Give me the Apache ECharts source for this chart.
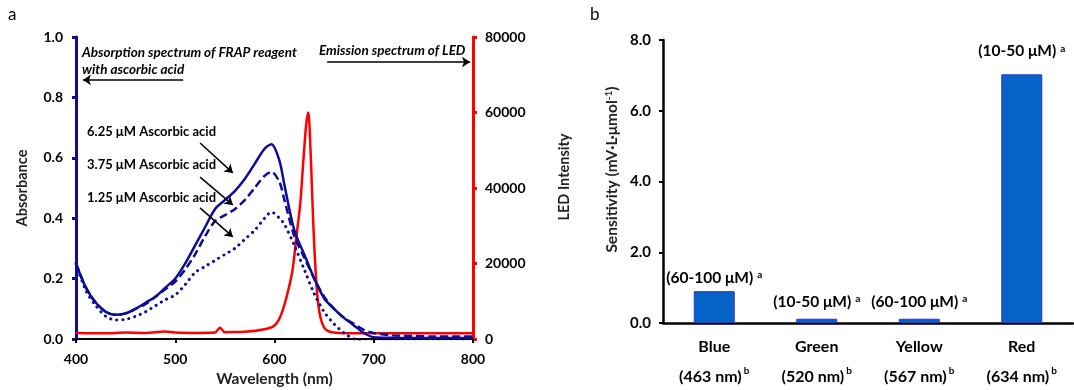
<!DOCTYPE html>
<html>
<head>
<meta charset="utf-8">
<script src="https://cdn.jsdelivr.net/npm/echarts@6/dist/echarts.min.js"></script>
<style>
  html, body { margin: 0; padding: 0; background: #fff; }
  #main { width: 1074px; height: 390px; }
</style>
</head>
<body>
<div id="main"></div>
<script>
// panel a: absorption spectra (wavelength grid shared by the three curves)
const absNm = [400, 410, 420, 430, 440, 450, 460, 470, 480, 490, 500, 510, 520, 530, 540, 550, 560, 570, 580, 590, 597, 605, 610, 620, 630, 640, 650, 660, 670, 680, 690, 700, 720, 740, 760, 780, 800];
const abs625 = [0.25, 0.17, 0.12, 0.09, 0.08, 0.085, 0.10, 0.12, 0.14, 0.17, 0.20, 0.25, 0.31, 0.37, 0.43, 0.46, 0.49, 0.53, 0.58, 0.63, 0.645, 0.59, 0.51, 0.36, 0.28, 0.20, 0.135, 0.10, 0.07, 0.045, 0.02, 0.006, 0.004, 0.003, 0.003, 0.003, 0.003];
const abs375 = [0.25, 0.17, 0.12, 0.09, 0.08, 0.085, 0.10, 0.115, 0.14, 0.165, 0.19, 0.23, 0.28, 0.34, 0.39, 0.41, 0.43, 0.46, 0.50, 0.54, 0.553, 0.52, 0.46, 0.34, 0.27, 0.20, 0.14, 0.10, 0.07, 0.05, 0.03, 0.02, 0.012, 0.01, 0.008, 0.008, 0.008];
const abs125 = [0.25, 0.16, 0.11, 0.075, 0.063, 0.065, 0.075, 0.09, 0.11, 0.13, 0.146, 0.18, 0.22, 0.24, 0.26, 0.28, 0.30, 0.33, 0.36, 0.40, 0.42, 0.40, 0.38, 0.31, 0.23, 0.15, 0.09, 0.05, 0.02, 0.0, -0.01, -0.01, -0.01, -0.01, -0.01, -0.01, -0.01];

// panel a: LED emission
const ledNm = [400, 430, 450, 470, 490, 500, 520, 540, 545, 550, 570, 590, 600, 606, 612, 618, 622, 626, 629, 632, 634, 636, 638, 640, 643, 646, 650, 655, 665, 700, 750, 800];
const ledVal = [1600, 1500, 1700, 1600, 2000, 1700, 1600, 1700, 3000, 1800, 1900, 2600, 3600, 6000, 11000, 18000, 27000, 36000, 47000, 57000, 60000, 52000, 38000, 25000, 12000, 6000, 3000, 2000, 1600, 1500, 1500, 1500];

// panel b: sensitivity per LED
const ledNames = ['Blue', 'Green', 'Yellow', 'Red'];
const ledPeaks = ['(463 nm)', '(520 nm)', '(567 nm)', '(634 nm)'];
const sensitivity = [0.90, 0.12, 0.12, 7.03];
const linRanges = ['(60-100 μM)', '(10-50 μM)', '(60-100 μM)', '(10-50 μM)'];

const font = 'Lato, "Open Sans", sans-serif';
const navy = '#0C0C96';
const zip = (xs, ys) => xs.map((x, i) => [x, ys[i]]);

const arrow = (x1, y1, x2, y2) => [{coord: [x1, y1]}, {coord: [x2, y2]}];

let chart = echarts.init(document.getElementById('main'));

chart.setOption({
  animation: false,
  textStyle: {fontFamily: font},
  grid: [
    {left: 76, right: 601, top: 37, bottom: 51, outerBoundsMode: 'none'},
    {left: 663, right: 1, top: 40, bottom: 67, outerBoundsMode: 'none'}
  ],
  xAxis: [
    {
      gridIndex: 0, type: 'value', min: 400, max: 800, interval: 100,
      name: 'Wavelength (nm)', nameLocation: 'middle', nameGap: 32,
      nameTextStyle: {fontSize: 15.5, fontWeight: 'bold', color: '#222'},
      axisLine: {lineStyle: {color: '#000', width: 2}},
      axisTick: {inside: false, length: 4, lineStyle: {color: '#000', width: 2}},
      axisLabel: {fontSize: 14, fontWeight: 'bold', color: '#000', margin: 13},
      splitLine: {show: false}
    },
    {
      gridIndex: 1, type: 'category', data: ledNames,
      axisLine: {lineStyle: {color: '#000', width: 2.5}},
      axisTick: {show: false},
      axisLabel: {
        margin: 9,
        interval: 0,
        formatter: (v, i) => '{n|' + v + '}\n{n|' + ledPeaks[i] + '}{sup|b}',
        rich: {
          n: {fontSize: 16, fontWeight: 'bold', color: '#000', lineHeight: 30, fontFamily: font},
          sup: {fontSize: 10, fontWeight: 'bold', color: '#000', verticalAlign: 'top', padding: [4, 0, 0, 2], fontFamily: font}
        }
      }
    }
  ],
  yAxis: [
    {
      gridIndex: 0, type: 'value', min: 0, max: 1, interval: 0.2,
      name: 'Absorbance', nameLocation: 'middle', nameGap: 46,
      nameTextStyle: {fontSize: 14.5, fontWeight: 'bold', color: '#222'},
      axisLine: {show: true, lineStyle: {color: navy, width: 3}},
      axisTick: {show: true, length: 4, lineStyle: {color: navy, width: 3}},
      axisLabel: {fontSize: 14, fontWeight: 'bold', color: '#000', margin: 13, formatter: v => v.toFixed(1)},
      splitLine: {show: false}
    },
    {
      gridIndex: 0, type: 'value', min: 0, max: 80000, interval: 20000, position: 'right',
      name: 'LED Intensity', nameLocation: 'middle', nameGap: 84, nameRotate: 90,
      nameTextStyle: {fontSize: 14.5, fontWeight: 'bold', color: '#222', padding: [0, 0, 0, 22]},
      axisLine: {show: true, lineStyle: {color: '#FF0000', width: 3}},
      axisTick: {show: true, length: 4, lineStyle: {color: '#FF0000', width: 3}},
      axisLabel: {fontSize: 14, fontWeight: 'bold', color: '#000', margin: 12, formatter: v => String(v)},
      splitLine: {show: false}
    },
    {
      gridIndex: 1, type: 'value', min: 0, max: 8, interval: 2,
      name: '{n|Sensitivity (mV·L·μmol}{sup|-1}{n|)}', nameLocation: 'middle', nameGap: 43,
      nameTextStyle: {
        padding: [0, 0, 0, 24],
        rich: {
          n: {fontSize: 15.5, fontWeight: 'bold', color: '#222', fontFamily: font},
          sup: {fontSize: 10, fontWeight: 'bold', color: '#222', verticalAlign: 'top', fontFamily: font}
        }
      },
      axisLine: {show: true, lineStyle: {color: '#000', width: 2.5}},
      axisTick: {show: true, length: 4, lineStyle: {color: '#000', width: 2}},
      axisLabel: {fontSize: 15, fontWeight: 'bold', color: '#000', margin: 12, formatter: v => v.toFixed(1)},
      splitLine: {show: false}
    }
  ],
  series: [
    {
      name: 'LED', type: 'line', xAxisIndex: 0, yAxisIndex: 1,
      data: zip(ledNm, ledVal), showSymbol: false, smooth: 0.3,
      lineStyle: {color: '#FF0000', width: 2.5}, z: 1
    },
    {
      name: '6.25 μM', type: 'line', xAxisIndex: 0, yAxisIndex: 0,
      data: zip(absNm, abs625), showSymbol: false, smooth: 0.3,
      lineStyle: {color: navy, width: 2.5}, z: 3,
      markLine: {
        silent: true, animation: false,
        symbol: ['none', 'arrow'], symbolSize: 8,
        label: {show: false},
        lineStyle: {color: '#000', width: 1.5, type: 'solid'},
        data: [
          arrow(508, 0.858, 407, 0.858),
          arrow(653, 0.917, 797, 0.917),
          arrow(525, 0.649, 558, 0.55),
          arrow(525, 0.536, 558, 0.444),
          arrow(525, 0.434, 558, 0.338)
        ]
      }
    },
    {
      name: '3.75 μM', type: 'line', xAxisIndex: 0, yAxisIndex: 0,
      data: zip(absNm, abs375), showSymbol: false, smooth: 0.3,
      lineStyle: {color: navy, width: 2.5, type: [8, 4]}, z: 3
    },
    {
      name: '1.25 μM', type: 'line', xAxisIndex: 0, yAxisIndex: 0,
      data: zip(absNm, abs125), showSymbol: false, smooth: 0.3,
      lineStyle: {color: navy, width: 3, type: [0.1, 6], cap: 'round'}, z: 3
    },
    {
      name: 'Sensitivity', type: 'bar', xAxisIndex: 1, yAxisIndex: 2,
      barWidth: 41,
      data: sensitivity.map((v, i) => ({
        value: v,
        label: {distance: [5, 9, 9, 15][i]}
      })),
      itemStyle: {color: '#0563C8', borderColor: '#3333DD', borderWidth: 1},
      label: {
        show: true, position: 'top',
        formatter: p => '{n|' + linRanges[p.dataIndex] + '}{sup|a}',
        rich: {
          n: {fontSize: 15.5, fontWeight: 'bold', color: '#000', fontFamily: font},
          sup: {fontSize: 10, fontWeight: 'bold', color: '#000', verticalAlign: 'top', padding: [0, 0, 0, 4], fontFamily: font}
        }
      }
    }
  ],
  graphic: [
    {type: 'text', left: 8, top: 6, style: {text: 'a', fontSize: 17, fontFamily: font, fill: '#000'}},
    {type: 'text', left: 590, top: 6, style: {text: 'b', fontSize: 17, fontFamily: font, fill: '#000'}},
    {type: 'text', left: 82, top: 44, style: {text: 'Absorption spectrum of FRAP reagent\nwith ascorbic acid', fontSize: 13.5, lineHeight: 17, fontWeight: 'bold', fontStyle: 'italic', fontFamily: font, fill: '#000'}},
    {type: 'text', left: 319, top: 44, style: {text: 'Emission spectrum of LED', fontSize: 13.5, fontWeight: 'bold', fontStyle: 'italic', fontFamily: font, fill: '#000'}},
    {type: 'text', left: 87, top: 125, style: {text: '6.25 μM Ascorbic acid', fontSize: 13, fontWeight: 'bold', fontFamily: font, fill: '#000'}},
    {type: 'text', left: 87, top: 158, style: {text: '3.75 μM Ascorbic acid', fontSize: 13, fontWeight: 'bold', fontFamily: font, fill: '#000'}},
    {type: 'text', left: 87, top: 191, style: {text: '1.25 μM Ascorbic acid', fontSize: 13, fontWeight: 'bold', fontFamily: font, fill: '#000'}}
  ]
});
</script>
</body>
</html>
